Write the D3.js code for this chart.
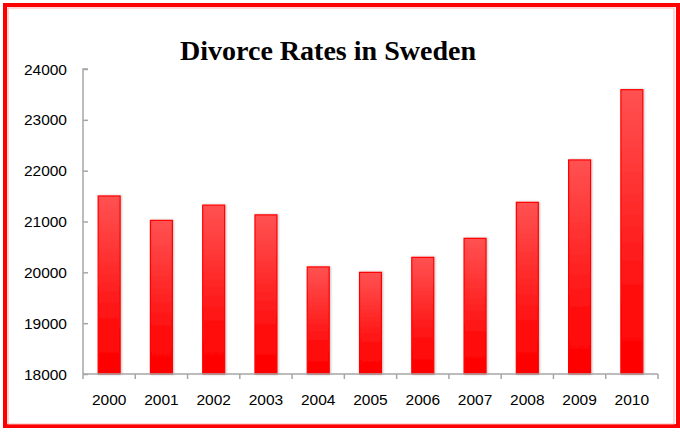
<!DOCTYPE html>
<html>
<head>
<meta charset="utf-8">
<script src="https://cdn.jsdelivr.net/npm/d3@7"></script>
<style>
html,body{margin:0;padding:0;background:#fff;}
svg{display:block;}
</style>
</head>
<body>
<svg id="chart" width="680" height="432"></svg>
<script>
const years = ["2000","2001","2002","2003","2004","2005","2006","2007","2008","2009","2010"];
const divorces = [21502, 21022, 21322, 21130, 20106, 20000, 20295, 20669, 21377, 22211, 23593];
const yTicks = [18000, 19000, 20000, 21000, 22000, 23000, 24000];
const title = "Divorce Rates in Sweden";

(function(){
const svg = d3.select("#chart");
const defs = svg.append("defs");
const grad = defs.append("linearGradient").attr("id","barGrad")
  .attr("x1",0).attr("y1",0).attr("x2",0).attr("y2",1);
grad.append("stop").attr("offset","0%").attr("stop-color","#ff5252");
grad.append("stop").attr("offset","70%").attr("stop-color","#ff1010");
grad.append("stop").attr("offset","100%").attr("stop-color","#ff0000");
const flt = defs.append("filter").attr("id","shadow").attr("x","-30%").attr("y","-10%").attr("width","160%").attr("height","120%");
flt.append("feDropShadow").attr("dx",1).attr("dy",0).attr("stdDeviation",1.2).attr("flood-color","#000").attr("flood-opacity",0.25);

// Frame
svg.append("rect").attr("x",5).attr("y",5).attr("width",673).attr("height",421)
  .attr("fill","none").attr("stroke","#ff0000").attr("stroke-width",4);
svg.append("rect").attr("x",8).attr("y",8).attr("width",666).attr("height",416)
  .attr("fill","none").attr("stroke","#ffb0b0").attr("stroke-width",1);

const pLeft = 83, pRight = 658, pTop = 69, pBottom = 374;
const x = d3.scaleBand().domain(years).range([pLeft, pRight]).paddingInner(0).paddingOuter(0);
const y = d3.scaleLinear().domain([18000, 24000]).range([pBottom, pTop]);

// Title
svg.append("text").attr("x", 328).attr("y", 60).attr("text-anchor","middle")
  .attr("font-family","'Liberation Serif', serif").attr("font-weight","bold")
  .attr("font-size",27).attr("textLength",296).attr("lengthAdjust","spacingAndGlyphs")
  .attr("fill","#000").text(title);

// Bars
const bw = x.bandwidth()*0.42;
svg.append("g").selectAll("rect").data(years).join("rect")
  .attr("x", (d)=> x(d) + x.bandwidth()/2 - bw/2)
  .attr("y", (d,i)=> y(divorces[i]))
  .attr("width", bw)
  .attr("height", (d,i)=> y(18000) - y(divorces[i]))
  .attr("fill","url(#barGrad)")
  .attr("stroke","#ff0000").attr("stroke-width",1.2)
  .attr("filter","url(#shadow)");

// Y axis
const yAxis = d3.axisRight(y).tickValues(yTicks).tickSize(5).tickFormat("");
const gy = svg.append("g").attr("transform",`translate(${pLeft},0)`).call(yAxis);
gy.select(".domain").attr("stroke","#a6a6a6").attr("stroke-width",1.5).attr("d",`M5,${pTop}H0V${pBottom}`);
gy.selectAll(".tick line").attr("stroke","#a6a6a6").attr("stroke-width",1.5);
svg.append("g").selectAll("text").data(yTicks).join("text")
  .attr("x", 67).attr("y", d=>y(d)).attr("dy","0.36em").attr("text-anchor","end")
  .attr("font-family","'Liberation Sans', Arial, sans-serif").attr("font-size",15.5)
  .attr("fill","#000").text(d=>d);

// X axis
const gx = svg.append("g");
gx.append("line").attr("x1",pLeft).attr("x2",pRight).attr("y1",pBottom).attr("y2",pBottom)
  .attr("stroke","#a6a6a6").attr("stroke-width",1.5);
const bounds = years.map(d=>x(d)).concat([pRight]);
gx.selectAll("line.t").data(bounds).join("line").attr("class","t")
  .attr("x1",d=>d).attr("x2",d=>d).attr("y1",pBottom).attr("y2",pBottom+5)
  .attr("stroke","#a6a6a6").attr("stroke-width",1.5);
gx.selectAll("text").data(years).join("text")
  .attr("x", d=>x(d)+x.bandwidth()/2).attr("y", 405).attr("text-anchor","middle")
  .attr("font-family","'Liberation Sans', Arial, sans-serif").attr("font-size",15.5)
  .attr("fill","#000").text(d=>d);
})();
</script>
</body>
</html>
